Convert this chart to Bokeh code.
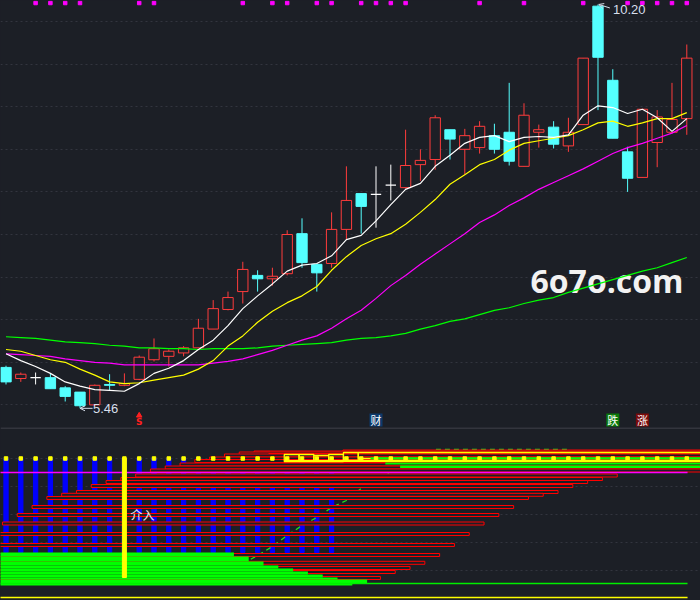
import numpy as np
from bokeh.plotting import figure
from bokeh.layouts import column
from bokeh.models import (Range1d, FixedTicker, Span, Label, Arrow, OpenHead,
                          GlobalInlineStyleSheet)
from bokeh.core.properties import value
from bokeh.embed import file_html
from bokeh.resources import INLINE

# ---------------- data: daily candles ----------------
opens  = [5.94, 5.81, 5.82, 5.82, 5.70, 5.65, 5.50, 5.74, 5.73, 5.80,
          6.03, 6.07, 6.11, 6.17, 6.39, 6.62, 6.83, 7.02, 6.98, 7.04,
          7.51, 7.15, 7.16, 7.56, 7.98, 7.97, 8.08, 8.05, 8.32, 8.38,
          8.73, 8.50, 8.52, 8.66, 8.70, 8.30, 8.70, 8.76, 8.54, 8.79,
          10.18, 9.31, 8.47, 8.17, 8.58, 8.70, 8.86]
highs  = [5.96, 5.88, 5.88, 5.87, 5.72, 5.65, 5.74, 5.86, 5.87, 6.08,
          6.28, 6.15, 6.19, 6.51, 6.73, 6.83, 7.18, 7.08, 7.11, 7.55,
          7.69, 7.15, 7.76, 8.30, 7.98, 8.30, 8.32, 8.73, 8.50, 8.90,
          8.73, 8.74, 8.83, 8.80, 9.28, 9.04, 8.79, 8.83, 8.87, 9.57,
          10.20, 9.44, 8.53, 8.97, 8.96, 9.28, 9.73]
lows   = [5.74, 5.77, 5.74, 5.69, 5.54, 5.46, 5.49, 5.67, 5.72, 5.79,
          6.01, 5.95, 6.07, 6.17, 6.39, 6.61, 6.69, 6.83, 6.90, 7.02,
          7.11, 6.83, 7.11, 7.44, 7.51, 7.58, 7.90, 8.04, 8.13, 8.26,
          8.38, 8.20, 8.45, 8.45, 8.31, 8.30, 8.52, 8.51, 8.47, 8.79,
          8.96, 8.63, 8.00, 8.17, 8.29, 8.69, 8.67]
closes = [5.77, 5.86, 5.82, 5.69, 5.60, 5.49, 5.73, 5.73, 5.75, 6.06,
          6.16, 6.13, 6.17, 6.40, 6.63, 6.76, 7.09, 6.98, 7.01, 7.50,
          7.17, 7.05, 7.56, 7.90, 7.83, 7.97, 8.08, 8.31, 8.37, 8.87,
          8.62, 8.66, 8.77, 8.50, 8.36, 8.90, 8.73, 8.56, 8.70, 9.57,
          9.58, 8.63, 8.16, 8.97, 8.88, 8.85, 9.57]

ma5  = [6.10, 6.02, 5.95, 5.87, 5.77, 5.72, 5.68, 5.67, 5.66, 5.75,
        5.87, 5.93, 6.02, 6.15, 6.26, 6.43, 6.63, 6.78, 6.92, 7.07,
        7.14, 7.16, 7.25, 7.44, 7.49, 7.66, 7.85, 8.03, 8.10, 8.30,
        8.43, 8.57, 8.64, 8.66, 8.59, 8.64, 8.65, 8.64, 8.67, 8.90,
        9.01, 8.99, 8.92, 8.97, 8.87, 8.71, 8.86]
ma10 = [6.15, 6.13, 6.08, 6.03, 6.00, 5.92, 5.85, 5.77, 5.75, 5.76,
        5.79, 5.82, 5.85, 5.92, 6.02, 6.19, 6.31, 6.47, 6.60, 6.70,
        6.78, 6.89, 7.08, 7.24, 7.37, 7.45, 7.51, 7.62, 7.76, 7.91,
        8.09, 8.20, 8.32, 8.38, 8.49, 8.57, 8.60, 8.63, 8.66, 8.73,
        8.81, 8.83, 8.77, 8.81, 8.86, 8.86, 8.93]
ma20 = [6.10, 6.09, 6.08, 6.07, 6.04, 6.02, 6.00, 5.99, 5.97, 5.97,
        5.97, 5.97, 5.97, 5.97, 5.99, 6.01, 6.04, 6.09, 6.14, 6.20,
        6.26, 6.31, 6.40, 6.51, 6.61, 6.75, 6.90, 7.02, 7.15, 7.27,
        7.39, 7.51, 7.64, 7.73, 7.84, 7.93, 8.03, 8.11, 8.19, 8.27,
        8.36, 8.45, 8.52, 8.57, 8.63, 8.69, 8.78]
ma60 = [6.30, 6.29, 6.28, 6.26, 6.24, 6.23, 6.22, 6.20, 6.19, 6.17,
        6.17, 6.16, 6.16, 6.15, 6.16, 6.16, 6.16, 6.17, 6.19, 6.20,
        6.21, 6.22, 6.23, 6.26, 6.28, 6.29, 6.31, 6.34, 6.39, 6.43,
        6.48, 6.51, 6.56, 6.61, 6.64, 6.69, 6.73, 6.76, 6.82, 6.87,
        6.92, 6.97, 7.02, 7.07, 7.11, 7.17, 7.23]

signal_dots = [2, 3, 4, 5, 9, 10, 16, 18, 19, 21, 22, 24, 25, 26, 27,
               32, 35, 39, 42, 43, 44, 45, 46]
mark_idx = [25, 41, 43]
mark_text = ["财", "跌", "涨"]
mark_bg = ["#0c3a6c", "#0b7a0b", "#7a0b0b"]
s_idx = [9]
s_text = ["S"]
price_ticks = [5.5, 6.0, 6.5, 7.0, 7.5, 8.0, 8.5, 9.0, 9.5, 10.0]

# ---------------- data: lower panel ----------------
blue_idx = list(range(0, 23))
blue_top, blue_bottom = 142, 48
red_levels = [149, 148, 147, 145.5, 145, 142, 139.5, 136, 133, 130,
              125, 121.5, 118.5, 114.5, 108.5, 105.7, 102.5, 93.5, 85.5, 77,
              66.5, 55.5, 45.5, 37.7, 32.5, 28.5, 22.5]
red_start = [23, 17, 16, 18, 15, 14, 13, 12, 11, 10,
             9, 8, 7, 6, 5, 4, 3, 2, 1, 0,
             -1, -1, -1, -1, -1, -1, -1]
red_end = [48] * 10 + [41, 40, 39, 38, 37, 36, 35, 34, 33, 32,
                       31, 30, 29, 28, 27, 26, 25]
green_tops = [48, 44, 39, 35, 32, 29, 26, 23, 21, 17]
green_bottoms = [44, 39, 35, 32, 29, 26, 23, 21, 17, 15]
green_ends = [15, 16, 17, 18, 19, 20, 21, 22, 24, 23]
gtop_start = [25, 26, 27]
gtop_top = [143.3, 138, 135]
gtop_bottom = [141, 136, 132.5]
ybox_start = [19, 20, 21, 22, 23, 24]
ybox_end = [20, 21, 22, 23, 24, 48]
ybox_top = [146, 146, 145, 146, 148, 148]
ybox_bottom = [139, 139, 139, 139, 140, 142]
yline_level = 139.5
cum_idx = list(range(16, 39))
cum_vals = [37, 45, 54, 65, 75, 83, 93, 100, 112, 120, 129, 137, 145,
            151, 151, 151, 151, 151, 151, 151, 151, 151, 151]
magenta_level, green_level, yellow_level = 128, 17, 3
entry_idx, entry_top, entry_bottom, entry_text_level = 8, 142, 23, 86
entry_text = "介入"
lower_ticks = [30, 58, 86, 114, 142]

# ---------------- styling ----------------
BG = "#1c1f26"
GRID = "#32353e"
RED = "#ff3c3c"
CYAN = "#54ffff"
LBL = "#d8dfec"
W, TOP_H, BOT_H = 700, 427, 173
PX = 0.011737
Y_HI = 10.2465
n = len(opens)

xr = Range1d(-0.372, 46.926)
yr = Range1d(Y_HI - TOP_H * PX, Y_HI)


def base_fig(h, y_range):
    f = figure(width=W, height=h, x_range=xr, y_range=y_range,
               output_backend="svg", toolbar_location=None, tools="",
               x_axis_location=None, y_axis_location=None, min_border=0,
               background_fill_color=BG, border_fill_color=BG,
               outline_line_color=None)
    f.xgrid.visible = False
    f.ygrid.grid_line_color = GRID
    f.ygrid.grid_line_dash = "2 3"
    return f


top = base_fig(TOP_H, yr)
top.ygrid.ticker = FixedTicker(ticks=price_ticks)

wm = Label(x=530, y=TOP_H - 280, x_units="screen", y_units="screen",
           text="6o7o.com", text_font="Open Sans", text_font_size="32px",
           text_font_style="bold", text_color="#f2f2f2",
           text_baseline="middle", level="underlay")
top.add_layout(wm)

idx = list(range(n))
up = [i for i in idx if closes[i] > opens[i]]
dn = [i for i in idx if closes[i] < opens[i]]
eq = [i for i in idx if closes[i] == opens[i]]

BW = 0.7
for grp, col in ((up, RED), (dn, CYAN), (eq, "#ffffff")):
    top.segment(x0=grp, y0=[lows[i] for i in grp], x1=grp,
                y1=[highs[i] for i in grp], line_color=col, line_width=1)
top.vbar(x=up, width=BW, top=[closes[i] for i in up],
         bottom=[opens[i] for i in up], fill_color=BG, line_color=RED,
         line_width=1)
top.vbar(x=dn, width=BW, top=[opens[i] for i in dn],
         bottom=[closes[i] for i in dn], fill_color=CYAN, line_color=CYAN,
         line_width=1)
top.segment(x0=[i - BW / 2 for i in eq], y0=[opens[i] for i in eq],
            x1=[i + BW / 2 for i in eq], y1=[opens[i] for i in eq],
            line_color="#ffffff", line_width=1.3)

top.line(idx, ma60, line_color="#00ff00", line_width=1.2)
top.line(idx, ma20, line_color="#ff00ff", line_width=1.2)
top.line(idx, ma10, line_color="#ffff00", line_width=1.2)
top.line(idx, ma5, line_color="#ffffff", line_width=1.2)

# signal dots at the top edge
top.scatter(x=signal_dots, y=[Y_HI - 2.5 * PX] * len(signal_dots),
            marker="square", size=3.5, color="#ff00ff")

# high / low labels
hi = int(np.argmax(highs))
lo = int(np.argmin(lows))
top.add_layout(Arrow(end=OpenHead(size=5, line_color=LBL, line_width=1),
                     x_start=hi + 0.8, y_start=highs[hi] - 3.5 * PX,
                     x_end=hi + 0.05, y_end=highs[hi],
                     line_color=LBL, line_width=1))
top.text(x=[hi], y=[highs[hi]], text=[f"{highs[hi]:.2f}"], x_offset=15,
         y_offset=5, text_baseline="middle", text_align="left",
         text_font=value("Liberation Sans"), text_font_size="13px",
         text_color=LBL)
top.add_layout(Arrow(end=OpenHead(size=5, line_color=LBL, line_width=1),
                     x_start=lo + 0.85, y_start=lows[lo],
                     x_end=lo, y_end=lows[lo],
                     line_color=LBL, line_width=1))
top.text(x=[lo], y=[lows[lo]], text=[f"{lows[lo]:.2f}"], x_offset=13,
         y_offset=0, text_baseline="middle", text_align="left",
         text_font=value("Liberation Sans"), text_font_size="13px",
         text_color=LBL)

# event markers on the bottom row of the price panel
row_y = yr.start + 7.5 * PX
top.rect(x=mark_idx, y=[row_y] * len(mark_idx), width=13, height=13,
         width_units="screen", height_units="screen", fill_color=mark_bg,
         line_color=None)
top.text(x=mark_idx, y=[row_y] * len(mark_idx), text=mark_text,
         text_align="center", text_baseline="middle",
         text_font=value("Noto Sans CJK SC"), text_font_size="11px",
         text_color="#ffffff")
top.scatter(x=s_idx, y=[row_y + 4.5 * PX] * len(s_idx), marker="triangle",
            size=5.5, color="#ff2020")
top.text(x=s_idx, y=[row_y - 1.5 * PX] * len(s_idx), text=s_text,
         text_align="center", text_baseline="middle",
         text_font=value("DejaVu Sans"), text_font_size="9px",
         text_font_style="bold", text_color="#ff2020")

# ---------------- lower panel ----------------
bot = base_fig(BOT_H, Range1d(0, BOT_H))
bot.ygrid.ticker = FixedTicker(ticks=lower_ticks)

bot.vbar(x=blue_idx, width=0.29, top=blue_top, bottom=blue_bottom,
         color="#0000ff")
bot.line(cum_idx, cum_vals, line_color="#22dd22", line_width=1.3,
         line_dash="5 4")
bot.quad(left=[s - 0.24 for s in red_start], right=[e + 0.3 for e in red_end],
         top=[v + 1.5 for v in red_levels], bottom=[v - 1.5 for v in red_levels],
         fill_color=BG, line_color="#ff0000", line_width=1)
bot.quad(left=[-1] * len(green_ends), right=[e + 0.4 for e in green_ends],
         top=green_tops, bottom=green_bottoms, fill_color="#00ff00",
         line_color=None)
bot.line([-1, n - 1 + 0.05], [green_level] * 2, line_color="#00ee00",
         line_width=1.5)
bot.line([-1, n - 1 + 0.05], [yellow_level] * 2, line_color="#ffff00",
         line_width=1.5)
bot.quad(left=[s - 0.2 for s in ybox_start], right=[e - 0.2 for e in ybox_end],
         top=ybox_top, bottom=ybox_bottom, fill_color=None,
         line_color="#ffff00", line_width=1.3)
bot.line([ybox_start[0] - 0.2, n + 1], [yline_level] * 2,
         line_color="#ffff00", line_width=2)
bot.quad(left=[s - 0.37 for s in gtop_start], right=[n + 1] * len(gtop_start),
         top=gtop_top, bottom=gtop_bottom, fill_color="#00ff00",
         line_color=None)
bot.line([-1, n - 1 + 0.05], [magenta_level] * 2, line_color="#ff00ff",
         line_width=1.5)
bot.scatter(x=idx, y=[blue_top] * n, marker="square", size=3.5,
            color="#ffff00")
bot.vbar(x=[entry_idx], width=0.27, top=entry_top, bottom=entry_bottom,
         color="#ffff00")
bot.text(x=[entry_idx], y=[entry_text_level], text=[entry_text], x_offset=6,
         text_baseline="middle", text_align="left",
         text_font=value("Noto Sans CJK SC"), text_font_size="12px",
         text_color="#e6e9f0")
bot.add_layout(Span(location=BOT_H - 0.5, dimension="width",
                    line_color="#4a4d55", line_width=1))

css = GlobalInlineStyleSheet(
    css="html,body{margin:0 !important;padding:0;background:#1c1f26;overflow:hidden;}")
layout = column(top, bot, spacing=0, stylesheets=[css])

open("out.html", "w").write(file_html(layout, INLINE))
